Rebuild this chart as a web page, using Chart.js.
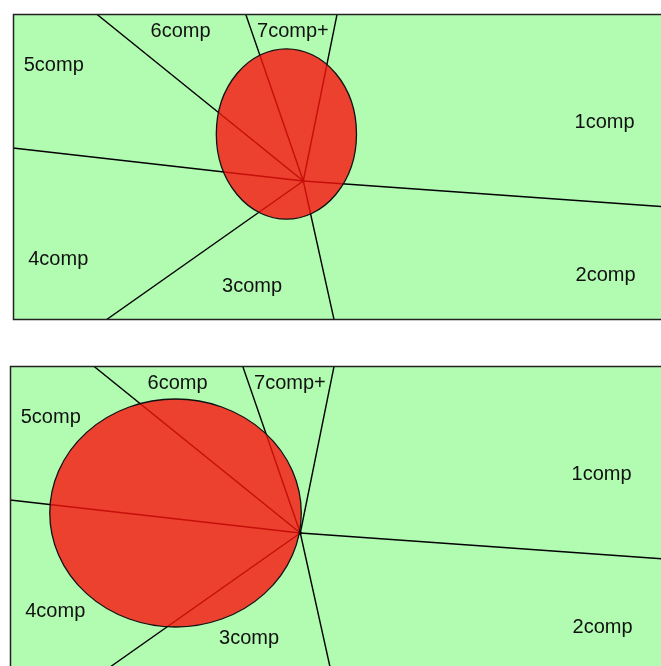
<!DOCTYPE html>
<html>
<head>
<meta charset="utf-8">
<script src="https://cdn.jsdelivr.net/npm/chart.js@4/dist/chart.umd.min.js"></script>
<style>
  html, body { margin: 0; padding: 0; background: #fff; overflow: hidden; width: 661px; height: 666px; }
  .panel { position: absolute; left: 0; }
  #p_top { top: 0; width: 700px; height: 330px; }
  #p_bottom { top: 340px; width: 697px; height: 340px; }
</style>
</head>
<body>
<div class="panel" id="p_top"><canvas id="c_top"></canvas></div>
<div class="panel" id="p_bottom"><canvas id="c_bottom"></canvas></div>
<script>
/* Two sector diagrams: 7 regions around a hub, with a red ellipse overlaid. */

const CATEGORIES = ["1comp", "2comp", "3comp", "4comp", "5comp", "6comp", "7comp+"];
const LABEL_X = [595, 596, 240.5, 45.5, 41, 168.5, 281.5];
const LABEL_Y = [108.5, 261, 272, 245, 51, 17, 17];

// hub where the boundaries meet
const HUB_X = 292;
const HUB_Y = 167;
// boundary end points: 1|2, 2|3, 3|4, 4|5, 5|6, 6|7, 7|1
const EDGE_X = [687, 323, 93.5, 0, 84, 234, 326];
const EDGE_Y = [195, 306, 306, 134, 0, 0, 0];

// ellipse: centre x, centre y, radius x, radius y
const ELLIPSE_TOP = [275, 120, 70.5, 85.2];
const ELLIPSE_BOTTOM = [166.5, 147, 126.5, 114];

const X_MAX = 687;
const Y_MAX = 306;

const GREEN = "#b2fcb2";
const RED_FILL = "rgba(249, 17, 13, 0.8)";
const FONT = '20px "Liberation Sans", Arial, sans-serif';

const sectorPlugin = {
  id: "sectors",
  beforeDatasetsDraw(chart) {
    const { ctx, chartArea: a } = chart;
    ctx.save();
    ctx.fillStyle = GREEN;
    ctx.fillRect(a.left, a.top, a.right - a.left, a.bottom - a.top);
    ctx.restore();
  },
  afterDatasetsDraw(chart, args, opts) {
    const { ctx, chartArea: a, scales: { x, y } } = chart;
    const [cx, cy, rx, ry] = opts.ellipse;
    const px = x.getPixelForValue(cx), py = y.getPixelForValue(cy);
    const prx = Math.abs(x.getPixelForValue(cx + rx) - px);
    const pry = Math.abs(y.getPixelForValue(cy + ry) - py);
    ctx.save();
    ctx.beginPath();
    ctx.ellipse(px, py, prx, pry, 0, 0, Math.PI * 2);
    ctx.fillStyle = RED_FILL;
    ctx.fill();
    ctx.lineWidth = 1.3;
    ctx.strokeStyle = "#111";
    ctx.stroke();

    ctx.font = FONT;
    ctx.fillStyle = "#111";
    ctx.textAlign = "center";
    ctx.textBaseline = "middle";
    CATEGORIES.forEach((c, i) => {
      ctx.fillText(c, x.getPixelForValue(LABEL_X[i]), y.getPixelForValue(LABEL_Y[i]));
    });

    ctx.lineWidth = 1.5;
    ctx.strokeStyle = "#222";
    ctx.strokeRect(a.left + 0.5, a.top + 0.5, a.right - a.left - 1, a.bottom - a.top - 1);
    ctx.restore();
  },
};

function boundaryDatasets() {
  const sets = EDGE_X.map((ex, i) => ({
    data: [{ x: HUB_X, y: HUB_Y }, { x: ex, y: EDGE_Y[i] }],
    showLine: true,
    borderColor: "#000",
    borderWidth: 1.4,
    pointRadius: 0,
    fill: false,
  }));
  sets.push({ data: [{ x: HUB_X, y: HUB_Y }], pointRadius: 1.5, backgroundColor: "#000", borderWidth: 0 });
  return sets;
}

function makePanel(id, padding, ellipse) {
  new Chart(document.getElementById(id), {
    type: "scatter",
    data: { datasets: boundaryDatasets() },
    options: {
      responsive: true, maintainAspectRatio: false, animation: false,
      layout: { padding },
      plugins: { legend: { display: false }, tooltip: { enabled: false }, sectors: { ellipse } },
      scales: {
        x: { type: "linear", min: 0, max: X_MAX, display: false },
        y: { type: "linear", min: 0, max: Y_MAX, reverse: true, display: false },
      },
    },
    plugins: [sectorPlugin],
  });
}

makePanel("c_top", { left: 13, top: 14, right: 0, bottom: 10 }, ELLIPSE_TOP);
makePanel("c_bottom", { left: 10, top: 26, right: 0, bottom: 8 }, ELLIPSE_BOTTOM);
</script>
</body>
</html>
